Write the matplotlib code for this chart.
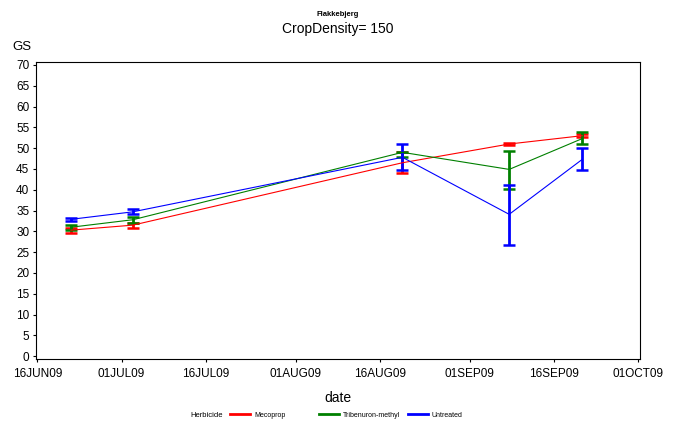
import numpy as np
import matplotlib
matplotlib.use('Agg')
from matplotlib import pyplot as plt
from matplotlib.lines import Line2D
import matplotlib.dates as mdates
from datetime import datetime

plt.rcParams['font.family'] = ['Liberation Sans', 'DejaVu Sans']

# sampling dates
dates = [datetime(2009, 6, 22), datetime(2009, 7, 3), datetime(2009, 8, 20),
         datetime(2009, 9, 8), datetime(2009, 9, 21)]

# mean GS and lower / upper bar ends per herbicide
meco_mean = [30.3, 31.5, 46.5, 51.0, 53.0]
meco_lo = [29.7, 30.9, 44.1, 50.8, 52.7]
meco_hi = [30.9, 32.0, 49.0, 51.2, 53.4]

trib_mean = [31.0, 32.8, 49.0, 44.9, 52.3]
trib_lo = [30.3, 32.1, 47.8, 40.1, 51.0]
trib_hi = [31.6, 33.4, 49.2, 49.3, 53.9]

untr_mean = [32.9, 34.7, 47.8, 34.1, 47.3]
untr_lo = [32.5, 34.1, 44.7, 26.7, 44.7]
untr_hi = [33.3, 35.3, 50.9, 41.1, 50.1]

series = [('Mecoprop', 'red', meco_mean, meco_lo, meco_hi),
          ('Tribenuron-methyl', 'green', trib_mean, trib_lo, trib_hi),
          ('Untreated', 'blue', untr_mean, untr_lo, untr_hi)]

tick_dates = [datetime(2009, 6, 16), datetime(2009, 7, 1), datetime(2009, 7, 16),
              datetime(2009, 8, 1), datetime(2009, 8, 16), datetime(2009, 9, 1),
              datetime(2009, 9, 16), datetime(2009, 10, 1)]

fig = plt.figure(figsize=(6.85, 4.25), dpi=100)
ax = fig.add_axes([0.052, 0.155, 0.8816, 0.699])

for name, col, m, lo, hi in series:
    m = np.array(m)
    err = [m - np.array(lo), np.array(hi) - m]
    ax.errorbar(dates, m, yerr=err, color=col, lw=0.8, elinewidth=2.0,
                capsize=4.5, capthick=1.8)

ax.set_ylim(-0.7, 70.7)
ax.set_yticks(np.arange(0, 71, 5))
ax.set_xlim(mdates.date2num(datetime(2009, 6, 16)) - 0.3,
            mdates.date2num(datetime(2009, 10, 1)) + 0.2)
ax.set_xticks(tick_dates)
ax.xaxis.set_major_formatter(plt.FuncFormatter(
    lambda v, p: mdates.num2date(v).strftime('%d%b%y').upper()))
ax.tick_params(labelsize=8.5, length=2.5, width=0.8, direction='out', pad=2)
ax.tick_params(axis='x', pad=4)
for s in ax.spines.values():
    s.set_linewidth(0.8)

fig.text(0.493, 0.967, 'Flakkebjerg', ha='center', va='center',
         fontsize=5.5, fontweight='bold')
fig.text(0.493, 0.932, 'CropDensity= 150', ha='center', va='center', fontsize=10)
fig.text(0.018, 0.889, 'GS', ha='left', va='center', fontsize=9.5)
fig.text(0.493, 0.064, 'date', ha='center', va='center', fontsize=10)
fig.text(0.301, 0.023, 'Herbicide', ha='center', va='center', fontsize=5.5)

for i, (name, col, m, lo, hi) in enumerate(series):
    h = Line2D([], [], color=col, lw=2)
    fig.legend([h], [name], loc='center left',
               bbox_to_anchor=(0.336 + i * 0.1295, 0.023), frameon=False,
               fontsize=5, handlelength=2.9, handletextpad=0.6,
               borderpad=0, borderaxespad=0)

fig.savefig('out.png', dpi=100)
